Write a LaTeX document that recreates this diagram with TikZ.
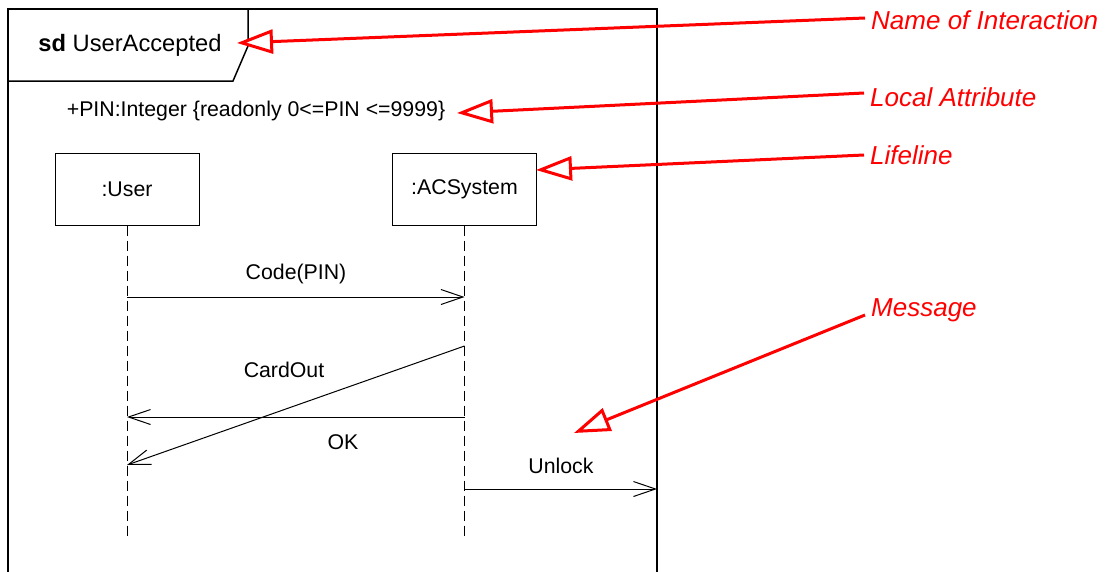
\documentclass[tikz,border=0pt]{standalone}
\usepackage{fontspec}
\setmainfont{Liberation Sans}
\usetikzlibrary{arrows.meta}
\tikzset{
  body/.style={font=\fontsize{21.3}{24}\selectfont, inner sep=0pt},
  lifebox/.style={draw, line width=1pt, minimum width=144pt, minimum height=72pt, font=\fontsize{21.3}{24}\selectfont},
  lifeline/.style={line width=1pt, dash pattern=on 10pt off 5pt},
  msg/.style={line width=1pt, -{Straight Barb[length=22pt,width=15pt,line width=1pt]}},
  note/.style={text=red, font=\fontsize{26}{30}\selectfont\itshape, anchor=west, inner sep=6pt},
  notearrow/.style={draw=red, line width=3pt, -{Triangle[open,length=36pt,width=24pt,line width=3pt,fill=white]}}
}
\begin{document}
\begin{tikzpicture}[x=1pt,y=-1pt]
\useasboundingbox (0,0) rectangle (1105,571);
% frame
\draw[line width=2pt] (8,572) -- (8,9) -- (657,9) -- (657,572);
\draw[line width=1.5pt] (8,81) -- (233,81) -- (248,46) -- (248,9);
\node[body, font=\fontsize{23.7}{27}\selectfont] (title) at (130,45) {\textbf{sd} UserAccepted};
\node[body] (attr) at (256,111) {+PIN:Integer \{readonly 0<=PIN <=9999\}};
% lifelines
\node[lifebox] (user) at (127,189) {:User};
\node[lifebox] (acs) at (464.5,189) {:ACSystem};
\coordinate (uend) at (127,538);
\coordinate (aend) at (464.5,538);
\draw[lifeline] (user.south) -- (uend);
\draw[lifeline] (acs.south) -- (aend);
% message points
\coordinate (u1) at (127,297); \coordinate (a1) at (464.5,297);
\coordinate (a2) at (464.5,346); \coordinate (u2) at (127,465);
\coordinate (a3) at (464.5,417); \coordinate (u3) at (127,417);
\coordinate (a4) at (464.5,489); \coordinate (f4) at (657,489);
\draw[msg] (u1) -- (a1);
\draw[msg] (a2) -- (u2);
\draw[msg] (a3) -- (u3);
\draw[msg] (a4) -- (f4);
\node[body] (lcode) at (296,274) {Code(PIN)};
\node[body] (lcard) at (284,370) {CardOut};
\node[body] (lok) at (343,442) {OK};
\node[body] (lunl) at (561,466) {Unlock};
% annotations
\node[note] (nName) at (865,20) {Name of Interaction};
\node[note] (nAttr) at (864,97) {Local Attribute};
\node[note] (nLife) at (864,155) {Lifeline};
\node[note] (nMsg) at (865,310) {Message};
\coordinate (tName) at (237,43);
\coordinate (tAttr) at (457,113);
\coordinate (tLife) at (536,170);
\coordinate (tMsg) at (574,433);
\draw[notearrow] ([yshift=2pt]nName.west) -- (tName);
\draw[notearrow] ([yshift=4pt]nAttr.west) -- (tAttr);
\draw[notearrow] (nLife.west) -- (tLife);
\draw[notearrow] ([yshift=-5pt]nMsg.west) -- (tMsg);
\end{tikzpicture}
\end{document}
